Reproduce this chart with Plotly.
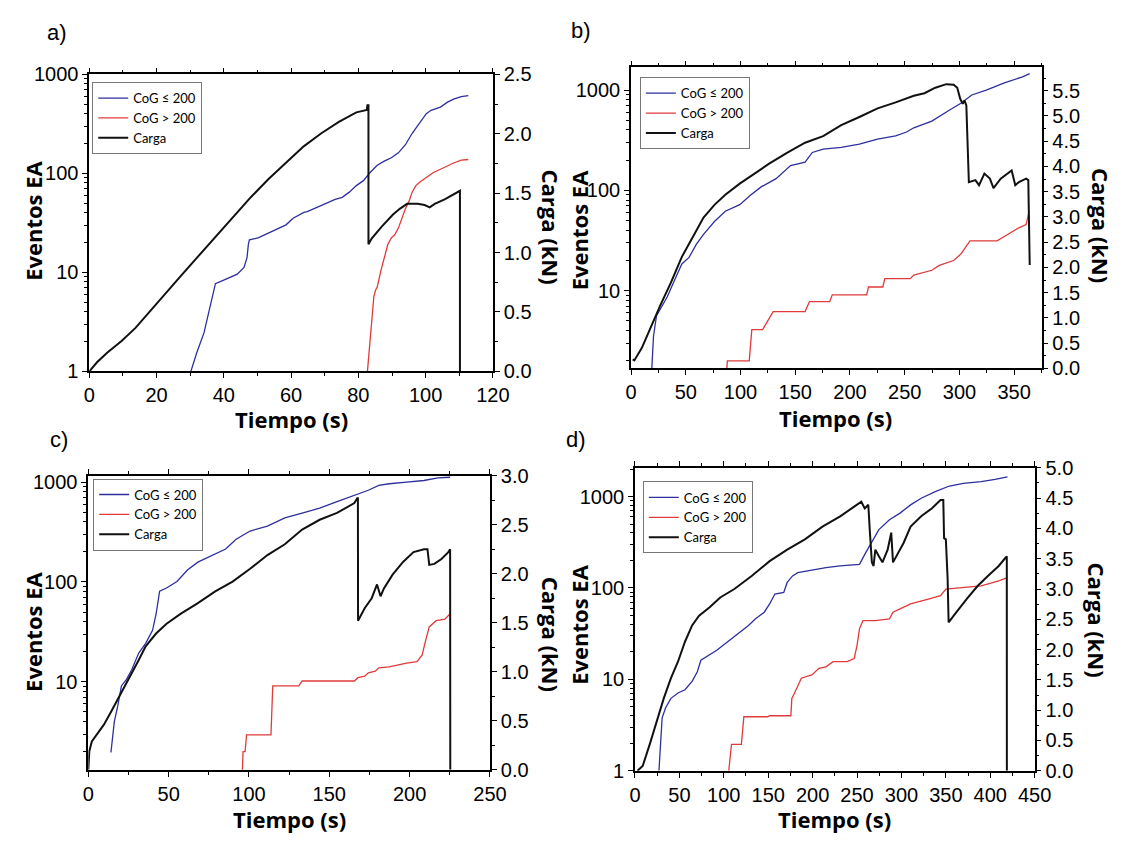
import plotly.graph_objects as go

# ---------------- data ----------------
# a) time (s), cumulative AE events and load (kN)
a_t_low = [30.2, 32.0, 34.1, 36.1, 37.5, 39.8, 41.9, 44.0, 46.0, 46.9, 47.3, 47.6, 50.2, 52.3, 54.4, 56.5,
           58.5, 60.6, 62.2, 63.8, 64.8, 66.9, 69.0, 71.0, 73.1, 75.2, 77.3, 79.4, 81.5, 83.5, 85.6, 87.7,
           89.8, 91.9, 94.0, 96.0, 98.1, 100.2, 101.6, 104.4, 106.5, 108.5, 110.6, 112.7]
a_low = [1, 1.56, 2.45, 4.9, 7.7, 8.3, 8.9, 9.6, 11.2, 14.1, 19.2, 21.3, 22.3, 24.0, 26, 28,
         30.2, 35.2, 38, 40.3, 41, 44.2, 47.7, 51.5, 54.7, 57.3, 64.6, 75.2, 84.4, 102, 120.6, 133,
         143.6, 161, 194.6, 254, 319, 401, 433, 467, 524, 565, 596, 610]
a_t_high = [82.7, 83.5, 84.1, 84.6, 85.1, 85.6, 86.7, 87.7, 88.75, 89.8, 90.8, 91.9, 92.9, 94.0, 95.0,
            96.0, 97.1, 98.1, 100.2, 102.3, 104.4, 106.5, 108.5, 110.6, 112.7]
a_high = [1, 2.27, 3.6, 5.7, 6.6, 7.1, 10.4, 14.1, 19.1, 22.3, 24, 28, 35.2, 44.2, 51.5,
          64.6, 75.2, 81, 91, 102, 110, 119, 128, 136, 138]
a_t_load = [0, 2.3, 5.4, 9.6, 13.75, 17.9, 22.1, 27.3, 32.5, 37.7, 42.9, 48.1, 53.3, 58.5, 63.75, 69.0,
            74.2, 79.4, 82.5, 82.7, 83.0, 83.0, 84.0, 87.0, 90.3, 92.4, 94.5, 97.6, 99.7, 101.2, 102.7,
            105.8, 108.9, 110.0, 110.2, 110.2]
a_load = [0, 0.077, 0.159, 0.256, 0.366, 0.503, 0.641, 0.806, 0.972, 1.137, 1.302, 1.468, 1.619, 1.757,
          1.894, 2.004, 2.10, 2.18, 2.20, 2.24, 2.24, 1.07, 1.12, 1.22, 1.32, 1.37, 1.41, 1.41, 1.40,
          1.38, 1.41, 1.45, 1.50, 1.52, 1.52, 0]

# b)
b_t_low = [18.9, 20.5, 23.2, 33.1, 39.7, 46.4, 53.0, 59.6, 66.2, 76.2, 86.1, 99.3, 109.3, 119.2, 132.5,
           145.7, 159.0, 165.6, 175.5, 192.0, 208.6, 225.2, 241.7, 251.7, 258.3, 274.8, 291.4, 301.3,
           311.3, 324.5, 341.0, 357.6, 364.2]
b_low = [1.63, 3.5, 5.6, 8.7, 12.7, 18.5, 21.5, 29, 36.5, 49, 62, 72, 90, 109, 131,
         177, 191, 239, 258, 268, 289, 324, 349, 382, 421, 490, 637, 740,
         893, 1000, 1180, 1352, 1456]
b_t_high = [87.4, 88.0, 108.0, 110.3, 120.2, 129.8, 159.0, 163.0, 181.5, 183.8, 215.2, 216.9, 230.0, 231.8,
            255.0, 258.3, 274.8, 281.5, 294.7, 301.3, 309.6, 334.4, 344.4, 354.3, 360.9, 363.6]
b_high = [1.6, 2.0, 2.0, 4.1, 4.1, 6.2, 6.2, 7.8, 7.8, 9.1, 9.1, 10.9, 10.9, 13.2,
          13.2, 14.3, 16.0, 17.9, 20.0, 23.2, 31.4, 31.4, 36.5, 42.4, 45.7, 61.7]
b_t_load = [1.5, 3.0, 9.9, 19.9, 26.5, 36.4, 46.4, 56.3, 66.2, 76.2, 86.1, 99.3, 112.6, 125.8, 142.4,
            159.0, 175.5, 192.0, 208.6, 225.2, 241.7, 255.0, 258.3, 268.0, 278.0, 288.0, 294.7, 298.0,
            300.7, 303.0, 304.6, 306.3, 307.3, 308.6, 314.6, 317.9, 322.8, 327.8, 331.1, 337.7, 347.7,
            351.0, 354.3, 360.9, 362.9, 363.6, 364.2]
b_load = [0.18, 0.16, 0.41, 0.92, 1.24, 1.70, 2.21, 2.60, 2.99, 3.24, 3.44, 3.66, 3.86, 4.05, 4.27,
          4.47, 4.60, 4.82, 4.98, 5.15, 5.27, 5.37, 5.40, 5.45, 5.56, 5.63, 5.62, 5.56,
          5.34, 5.24, 5.31, 5.21, 4.53, 3.69, 3.73, 3.63, 3.86, 3.76, 3.57, 3.76, 3.92,
          3.63, 3.69, 3.76, 3.73, 2.60, 2.05]

# c)
c_t_low = [14.1, 16.2, 18.4, 20.6, 23.8, 27.1, 31.4, 35.7, 40.0, 42.2, 44.4, 48.7, 55.2, 61.7, 68.2, 74.7,
           81.2, 85.5, 92.0, 100.7, 111.5, 122.3, 133.1, 144.0, 154.8, 163.5, 167.8, 174.3, 180.8, 187.3,
           198.1, 208.9, 217.6, 225.2]
c_low = [1.96, 4.0, 5.8, 9.1, 10.6, 13.3, 19.4, 24.3, 32.8, 47.8, 80.8, 87, 101, 131.6, 158, 178,
         199, 214, 268, 324, 363, 438, 490, 548, 637, 713, 757, 829, 927, 963,
         1000, 1038, 1102, 1119]
c_t_high = [95.9, 96.3, 97.6, 98.5, 113.7, 114.8, 131.0, 133.1, 165.6, 167.8, 172.1, 174.3, 178.6, 180.8,
            187.3, 198.1, 204.6, 207.8, 210.0, 212.2, 216.5, 221.9, 225.2]
c_high = [1.3, 2.0, 2.0, 2.95, 2.95, 9.1, 9.1, 10.2, 10.2, 11.0, 11.4, 12.3, 12.8, 13.8,
          14.1, 15.4, 15.9, 18.6, 26.2, 35.5, 41, 42.5, 48]
c_t_load = [0, 0.65, 2.2, 5.4, 9.7, 14.1, 18.4, 22.7, 27.1, 31.4, 35.7, 42.2, 48.7, 57.4, 68.2, 79.0,
            89.8, 100.7, 111.5, 122.3, 133.1, 144.0, 154.8, 165.6, 167.4, 167.8, 167.9, 172.1, 176.4,
            179.7, 181.9, 184.0, 189.4, 195.9, 202.4, 208.9, 211.1, 212.2, 215.4, 219.8, 224.1, 225.2,
            225.3]
c_load = [0, 0.19, 0.29, 0.36, 0.46, 0.59, 0.72, 0.86, 0.99, 1.12, 1.26, 1.39, 1.49, 1.59, 1.70, 1.82,
          1.92, 2.05, 2.19, 2.30, 2.45, 2.55, 2.62, 2.72, 2.77, 2.77, 1.52, 1.65, 1.75,
          1.89, 1.77, 1.85, 1.99, 2.12, 2.22, 2.25, 2.25, 2.09, 2.10, 2.15, 2.22, 2.25,
          0]

# d)
d_t_low = [27.0, 30.6, 34.5, 40.5, 48.4, 56.3, 64.3, 70.2, 74.2, 80.2, 92.1, 104.0, 115.9, 127.8, 135.7,
           145.6, 151.6, 157.5, 167.5, 171.4, 177.4, 183.3, 199.2, 215.1, 231.0, 252.8, 258.7, 266.7,
           274.6, 286.5, 298.4, 310.3, 322.2, 338.1, 354.0, 369.8, 389.7, 405.5, 419.4]
d_low = [1, 3.8, 4.9, 6.2, 7.1, 7.7, 9.5, 12.1, 16.2, 17.7, 20.8, 25.7, 31.6, 38.9, 46,
         54.3, 66.8, 85.8, 89.5, 115, 135.6, 147, 157, 167, 174, 181, 233, 325,
         435, 558, 659, 811, 959, 1133, 1304, 1393, 1453, 1541, 1645]
d_t_high = [105.6, 108.7, 119.8, 122.6, 149.6, 151.6, 175.5, 176.6, 179.4, 187.3, 199.2, 207.1, 215.1,
            223.0, 238.9, 246.8, 250.0, 252.8, 256.7, 270.6, 286.5, 290.5, 298.4, 310.3, 330.2, 344.0,
            350.0, 389.7, 409.5, 419.4]
d_high = [1, 1.95, 1.95, 3.9, 3.9, 4.0, 4.0, 6.2, 7.0, 10.3, 11.2, 13.2, 13.7,
          15.6, 15.6, 16.9, 23.6, 35.8, 44, 44, 46, 54.3, 59, 66.8, 75.7, 82.3,
          97.2, 105.6, 119.7, 130]
d_t_load = [2.8, 8.7, 16.7, 24.6, 32.5, 40.5, 48.4, 56.3, 64.3, 72.2, 84.1, 96.0, 111.9, 131.7, 151.6,
            171.4, 191.3, 211.1, 231.0, 246.8, 254.8, 258.7, 262.7, 264.3, 266.7, 268.6, 270.6, 274.6,
            278.6, 284.5, 288.5, 290.5, 294.4, 302.4, 310.3, 322.2, 334.1, 344.0, 347.1, 348.0, 350.0,
            352.0, 353.1, 355.9, 361.9, 373.8, 385.7, 397.6, 409.5, 417.4, 418.6, 418.7]
d_load = [0, 0.08, 0.44, 0.82, 1.20, 1.53, 1.80, 2.13, 2.40, 2.56, 2.70, 2.86, 3.00, 3.22, 3.46,
          3.65, 3.82, 4.03, 4.20, 4.36, 4.44, 4.33, 4.39, 3.98, 3.44, 3.38, 3.65, 3.54,
          3.44, 3.65, 3.93, 3.44, 3.54, 3.76, 4.03, 4.20, 4.33, 4.47, 4.47, 3.84, 3.82,
          3.16, 2.45, 2.51, 2.62, 2.84, 3.05, 3.22, 3.38, 3.52, 3.54, 0]

panel_labels = ["a)", "b)", "c)", "d)"]
series_names = ["CoG \u2264 200", "CoG > 200", "Carga"]
x_title = "Tiempo (s)"
y_title = "Eventos EA"
y2_title = "Carga (kN)"

# ---------------- layout geometry (pixels) ----------------
W, H = 1133, 849
panels = [
    dict(box=(85, 497, 65, 370), xr=(0, 120), xd=20, xm=10, yr=(0, 3.0), y2r=(0, 2.5), y2max=2.5,
         leg=(88, 73), lab=(40, 22), ytl=(28, 215), xtl=(291, 419), y2tl=(556, 222),
         data=(a_t_low, a_low, a_t_high, a_high, a_t_load, a_load)),
    dict(box=(638, 1057, 58, 367), xr=(0, 375), xd=50, xm=25, yr=(0.225, 3.225), y2r=(0, 5.96), y2max=5.5,
         leg=(647, 68), lab=(575, 20), ytl=(585, 225), xtl=(847, 418), y2tl=(1117, 220),
         data=(b_t_low, b_low, b_t_high, b_high, b_t_load, b_load)),
    dict(box=(84, 494, 477, 779), xr=(0, 250), xd=50, xm=25, yr=(0.119, 3.065), y2r=(0, 3.0), y2max=3.0,
         leg=(89, 480), lab=(43, 440), ytl=(28, 637), xtl=(289, 830), y2tl=(556, 640),
         data=(c_t_low, c_low, c_t_high, c_high, c_t_load, c_load)),
    dict(box=(642, 1050, 469, 780), xr=(0, 450), xd=50, xm=25, yr=(0, 3.314), y2r=(0, 5.0), y2max=5.0,
         leg=(650, 483), lab=(570, 440), ytl=(585, 630), xtl=(846, 830), y2tl=(1114, 625),
         data=(d_t_low, d_low, d_t_high, d_high, d_t_load, d_load)),
]

BLUE = "#2e2e9e"
RED = "#e03a3a"
BLACK = "#111111"
TICK_FONT = dict(family="Liberation Sans, Arial, sans-serif", size=20, color="black")
TITLE_FONT = dict(family="Open Sans, sans-serif", size=22, color="black", weight="bold")
LEG_FONT = dict(family="Lato, Carlito, sans-serif", size=13, color="black")

log_major = [1, 10, 100, 1000, 10000]
log_minor = [m * 10 ** e for e in range(0, 4) for m in range(2, 10)]

fig = go.Figure()
layout = dict(width=W, height=H, margin=dict(l=0, r=0, t=0, b=0),
              paper_bgcolor="white", plot_bgcolor="white", showlegend=True)
annotations = []

for i, p in enumerate(panels):
    n = i + 1
    sx = "" if n == 1 else str(n)
    ny2 = n + 4
    x0, x1, y0, y1 = p["box"]
    xdom = [x0 / W, x1 / W]
    ydom = [1 - y1 / H, 1 - y0 / H]
    legname = "legend" if n == 1 else f"legend{n}"
    t_lo, v_lo, t_hi, v_hi, t_ld, v_ld = p["data"]

    fig.add_trace(go.Scatter(x=t_lo, y=v_lo, mode="lines", name=series_names[0],
                             line=dict(color=BLUE, width=1.3), xaxis=f"x{sx}", yaxis=f"y{sx}",
                             legend=legname))
    fig.add_trace(go.Scatter(x=t_hi, y=v_hi, mode="lines", name=series_names[1],
                             line=dict(color=RED, width=1.3), xaxis=f"x{sx}", yaxis=f"y{sx}",
                             legend=legname))
    fig.add_trace(go.Scatter(x=t_ld, y=v_ld, mode="lines", name=series_names[2],
                             line=dict(color=BLACK, width=2), xaxis=f"x{sx}", yaxis=f"y{ny2}",
                             legend=legname))

    axis_common = dict(showline=True, linecolor="black", linewidth=1.6, showgrid=False, zeroline=False,
                       ticks="outside", ticklen=5, tickwidth=1.4, tickcolor="black", tickfont=TICK_FONT,
                       ticklabelstandoff=0)
    layout[f"xaxis{sx}"] = dict(axis_common, domain=xdom, anchor=f"y{sx}", range=list(p["xr"]),
                                 dtick=p["xd"], tick0=0, mirror="ticks",
                                 minor=dict(dtick=p["xm"], ticks="outside", ticklen=3, tickwidth=1.2,
                                            tickcolor="black", showgrid=False))
    layout[f"yaxis{sx}"] = dict(axis_common, domain=ydom, anchor=f"x{sx}", type="log", range=list(p["yr"]),
                                 tickvals=log_major, ticktext=[str(v) for v in log_major],
                                 minor=dict(tickvals=log_minor, ticks="outside", ticklen=3, tickwidth=1.1,
                                            tickcolor="black", showgrid=False))
    y2ticks = [k * 0.5 for k in range(int(round(p["y2max"] / 0.5)) + 1)]
    layout[f"yaxis{ny2}"] = dict(axis_common, domain=ydom, anchor=f"x{sx}", overlaying=f"y{sx}",
                                  side="right", range=list(p["y2r"]), tickvals=y2ticks,
                                  ticktext=[f"{v:.1f}" for v in y2ticks],
                                  minor=dict(dtick=0.25, tick0=0, ticks="outside", ticklen=3, tickwidth=1.1,
                                             tickcolor="black", showgrid=False))
    layout[legname] = dict(x=p["leg"][0] / W, y=1 - p["leg"][1] / H, xanchor="left", yanchor="top",
                           bgcolor="white", bordercolor="#777777", borderwidth=1, font=LEG_FONT,
                           tracegroupgap=0, itemwidth=30)

    annotations.append(dict(text=panel_labels[i], x=p["lab"][0] / W, y=1 - p["lab"][1] / H,
                            xref="paper", yref="paper", xanchor="left", yanchor="middle", showarrow=False,
                            font=dict(family="Liberation Sans, Arial, sans-serif", size=22, color="black")))
    annotations.append(dict(text=y_title, x=p["ytl"][0] / W, y=1 - p["ytl"][1] / H, xref="paper",
                            yref="paper", xanchor="center", yanchor="middle", textangle=-90,
                            showarrow=False, font=TITLE_FONT))
    annotations.append(dict(text=x_title, x=p["xtl"][0] / W, y=1 - p["xtl"][1] / H, xref="paper",
                            yref="paper", xanchor="center", yanchor="middle", showarrow=False,
                            font=TITLE_FONT))
    annotations.append(dict(text=y2_title, x=p["y2tl"][0] / W, y=1 - p["y2tl"][1] / H, xref="paper",
                            yref="paper", xanchor="center", yanchor="middle", textangle=90,
                            showarrow=False, font=TITLE_FONT))

layout["annotations"] = annotations
fig.update_layout(**layout)
fig.write_html("out.html")
